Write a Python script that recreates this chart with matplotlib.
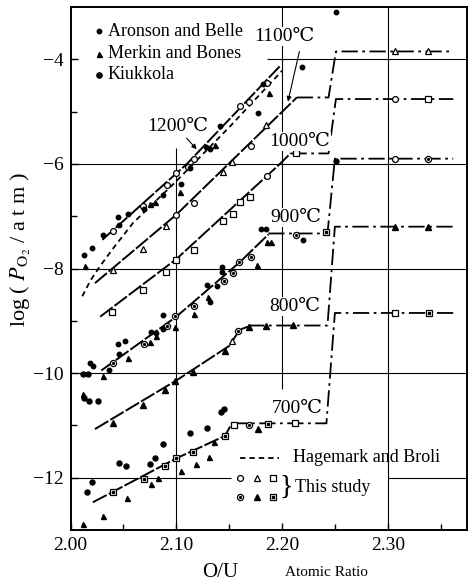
import matplotlib.pyplot as plt

plt.rcParams['font.family'] = ['Liberation Serif', 'DejaVu Serif']
plt.rcParams['mathtext.fontset'] = 'stix'

# ---- this study: fitted curves (rising branch) ----
c1200_x = [2.030, 2.110, 2.198]
c1200_y = [-7.45, -6.00, -4.13]
c1100_x = [2.023, 2.100, 2.214]
c1100_y = [-8.28, -6.97, -4.73]
c1000_x = [2.028, 2.100, 2.198, 2.208]
c1000_y = [-8.92, -7.82, -6.00, -5.80]
c900_x = [2.029, 2.100, 2.160, 2.187]
c900_y = [-9.95, -8.92, -7.88, -7.35]
c800_x = [2.023, 2.100, 2.150, 2.160, 2.168]
c800_y = [-11.07, -10.14, -9.48, -9.17, -9.11]
c700_x = [2.021, 2.100, 2.146, 2.152]
c700_y = [-12.47, -11.63, -11.20, -10.98]

# ---- plateau / step branches ----
s1100_x = [2.214, 2.244, 2.251, 2.362]
s1100_y = [-4.73, -4.73, -3.85, -3.85]
s1000_x = [2.208, 2.244, 2.251, 2.362]
s1000_y = [-5.80, -5.80, -4.76, -4.76]
s900_x = [2.187, 2.243, 2.250, 2.362]
s900_y = [-7.33, -7.33, -5.90, -5.90]
s800_x = [2.168, 2.243, 2.250, 2.362]
s800_y = [-9.09, -9.09, -7.20, -7.20]
s700_x = [2.152, 2.242, 2.250, 2.362]
s700_y = [-10.96, -10.96, -8.85, -8.85]

# Hagemark and Broli
hb_x = [2.011, 2.019, 2.028, 2.040, 2.059, 2.080, 2.100, 2.150, 2.200]
hb_y = [-8.53, -8.22, -7.95, -7.62, -7.13, -6.72, -6.33, -5.30, -4.22]

# ---- this study: measured points ----
open_circ_x = [2.040, 2.068, 2.091, 2.100, 2.111, 2.117, 2.160, 2.169, 2.186,
               2.100, 2.117, 2.171, 2.186, 2.307, 2.307]
open_circ_y = [-7.28, -6.80, -6.41, -6.18, -6.06, -5.90, -4.90, -4.82, -4.46,
               -6.97, -6.74, -5.65, -6.24, -4.76, -5.90]
open_tri_x = [2.040, 2.068, 2.090, 2.144, 2.153, 2.185, 2.307, 2.338, 2.153]
open_tri_y = [-8.02, -7.63, -7.19, -6.15, -5.96, -5.26, -3.85, -3.85, -9.38]
open_sq_x = [2.039, 2.068, 2.090, 2.100, 2.117, 2.144, 2.154, 2.160, 2.170,
             2.213, 2.338, 2.155, 2.212, 2.307]
open_sq_y = [-8.83, -8.42, -8.07, -7.84, -7.65, -7.10, -6.95, -6.72, -6.63,
             -5.80, -4.76, -11.00, -10.96, -8.85]
dot_circ_x = [2.040, 2.069, 2.091, 2.099, 2.117, 2.145, 2.154, 2.159, 2.171,
              2.213, 2.338, 2.158, 2.169]
dot_circ_y = [-9.81, -9.45, -9.10, -8.90, -8.72, -8.23, -8.09, -7.88, -7.78,
              -7.36, -5.90, -9.19, -11.00]
fill_tri_x = [2.040, 2.068, 2.089, 2.099, 2.116, 2.146, 2.169, 2.185, 2.210,
              2.307, 2.338, 2.177]
fill_tri_y = [-10.96, -10.61, -10.32, -10.16, -9.97, -9.57, -9.12, -9.10, -9.08,
              -7.20, -7.20, -11.07]
dot_sq_x = [2.040, 2.069, 2.089, 2.100, 2.116, 2.146, 2.187, 2.242, 2.339]
dot_sq_y = [-12.28, -12.03, -11.77, -11.63, -11.50, -11.20, -10.98, -7.30, -8.85]

# ---- literature data ----
aronson_x = [2.013, 2.020, 2.031, 2.046, 2.045, 2.054, 2.069, 2.087, 2.104,
             2.113, 2.128, 2.132, 2.141, 2.177, 2.182, 2.219, 2.251,
             2.018, 2.021, 2.036, 2.045, 2.051, 2.046, 2.076, 2.081, 2.087,
             2.087, 2.129, 2.132, 2.138, 2.143, 2.143, 2.180, 2.185, 2.220]
aronson_y = [-7.75, -7.60, -7.35, -7.17, -7.01, -6.95, -6.87, -6.59, -6.39,
             -6.07, -5.68, -5.71, -5.28, -5.03, -4.48, -4.14, -3.10,
             -9.80, -9.86, -9.94, -9.44, -9.38, -9.63, -9.22, -9.23, -8.89,
             -9.15, -8.32, -8.64, -8.34, -7.97, -8.06, -7.25, -7.25, -7.46]
merkin_x = [2.014, 2.075, 2.080, 2.103, 2.137, 2.188,
            2.031, 2.054, 2.075, 2.081, 2.099, 2.130, 2.117, 2.176, 2.186, 2.190,
            2.012, 2.012, 2.031, 2.053, 2.076, 2.083, 2.104, 2.119, 2.131, 2.136]
merkin_y = [-7.95, -6.76, -6.73, -6.53, -5.64, -4.65,
            -10.05, -9.71, -9.41, -9.29, -9.12, -8.55, -8.87, -7.93, -7.49, -7.49,
            -10.40, -12.89, -12.73, -12.38, -12.12, -12.01, -11.87, -11.74, -11.61, -11.31]
kiukkola_x = [2.012, 2.016, 2.013, 2.017, 2.026, 2.015, 2.020, 2.046, 2.052,
              2.075, 2.080, 2.087, 2.113, 2.129, 2.142, 2.145, 2.251]
kiukkola_y = [-10.02, -10.02, -10.47, -10.54, -10.54, -12.27, -12.09, -11.72, -11.78,
              -11.73, -11.63, -11.36, -11.15, -11.04, -10.75, -10.69, -5.95]

temps = ['1200℃', '1100℃', '1000℃', '900℃', '800℃', '700℃']
temp_x = [2.101, 2.202, 2.217, 2.213, 2.212, 2.214]
temp_y = [-5.28, -3.56, -5.57, -7.03, -8.73, -10.67]

fig = plt.figure(figsize=(4.71, 5.82), dpi=100)
ax = fig.add_axes([0.150, 0.0893, 0.8415, 0.8987])
ax.set_xlim(2.00, 2.375)
ax.set_ylim(-13, -3)

# grid pieces
gl = dict(color='black', lw=0.8, zorder=1)
ax.hlines(-4, 2.186, 2.375, **gl)
ax.hlines(-6, 2.00, 2.375, **gl)
ax.hlines(-8, 2.00, 2.375, **gl)
ax.hlines(-10, 2.00, 2.375, **gl)
ax.hlines(-12, 2.00, 2.152, **gl)
ax.hlines(-12, 2.300, 2.375, **gl)
ax.vlines(2.10, -13, -5.7, **gl)
ax.vlines(2.20, -10.3, -3, **gl)
ax.vlines(2.30, -13, -3, **gl)

rise = dict(color='black', lw=1.4, ls=(0, (8, 1.2)), zorder=3)
step = dict(color='black', lw=1.3, ls=(0, (9, 2.5, 1.5, 2.5)), zorder=3)
for cx, cy in [(c1200_x, c1200_y), (c1100_x, c1100_y), (c1000_x, c1000_y),
               (c900_x, c900_y), (c800_x, c800_y), (c700_x, c700_y)]:
    ax.plot(cx, cy, **rise)
for sx, sy in [(s1100_x, s1100_y), (s1000_x, s1000_y), (s900_x, s900_y),
               (s800_x, s800_y), (s700_x, s700_y)]:
    ax.plot(sx, sy, **step)
ax.plot(hb_x, hb_y, color='black', lw=1.3, ls=(0, (3, 2.2)), zorder=3)

mk = dict(ls='none', color='black', zorder=5)
ax.plot(open_circ_x, open_circ_y, 'o', ms=4.2, mfc='white', mew=0.9, **mk)
ax.plot(open_tri_x, open_tri_y, '^', ms=4.5, mfc='white', mew=0.9, **mk)
ax.plot(open_sq_x, open_sq_y, 's', ms=4.2, mfc='white', mew=0.9, **mk)
ax.plot(dot_circ_x, dot_circ_y, 'o', ms=4.4, mfc='white', mew=0.9, **mk)
ax.plot(dot_circ_x, dot_circ_y, 'o', ms=1.3, **mk)
ax.plot(fill_tri_x, fill_tri_y, '^', ms=5, **mk)
ax.plot(dot_sq_x, dot_sq_y, 's', ms=4.4, mfc='white', mew=0.9, **mk)
ax.plot(dot_sq_x, dot_sq_y, 's', ms=1.8, **mk)

ax.plot(aronson_x, aronson_y, 'o', ms=3.2, **mk)
ax.plot(merkin_x, merkin_y, '^', ms=3.6, **mk)
ax.plot(kiukkola_x, kiukkola_y, 'o', ms=3.6, **mk)

for t, x, y in zip(temps, temp_x, temp_y):
    ax.text(x, y, t, fontsize=14, ha='center', va='center', zorder=6,
            bbox=dict(fc='white', ec='none', pad=0.5))

arr = dict(arrowstyle='-|>', color='black', lw=0.8, mutation_scale=7)
ax.annotate('', xy=(2.121, -5.76), xytext=(2.108, -5.47), arrowprops=arr)
ax.annotate('', xy=(2.205, -4.86), xytext=(2.217, -3.80), arrowprops=arr)

# upper-left key
key_y = [-3.46, -3.89, -4.30]
ax.plot(2.027, key_y[0], 'o', ms=3.2, **mk)
ax.plot(2.027, key_y[1], '^', ms=3.6, **mk)
ax.plot(2.027, key_y[2], 'o', ms=3.8, **mk)
for y, s in zip(key_y, ['Aronson and Belle', 'Merkin and Bones', 'Kiukkola']):
    ax.text(2.035, y, s, fontsize=13, va='center', ha='left')

# lower-right key
ax.plot([2.160, 2.197], [-11.62, -11.62], color='black', lw=1.3, ls=(0, (3, 2.2)))
ax.text(2.210, -11.62, 'Hagemark and Broli', fontsize=13, va='center')
ax.plot([2.160], [-12.01], 'o', ms=4.2, mfc='white', mew=0.9, **mk)
ax.plot([2.176], [-12.01], '^', ms=4.5, mfc='white', mew=0.9, **mk)
ax.plot([2.191], [-12.01], 's', ms=4.2, mfc='white', mew=0.9, **mk)
ax.plot([2.160], [-12.37], 'o', ms=4.4, mfc='white', mew=0.9, **mk)
ax.plot([2.160], [-12.37], 'o', ms=1.3, **mk)
ax.plot([2.176], [-12.37], '^', ms=5, **mk)
ax.plot([2.191], [-12.37], 's', ms=4.4, mfc='white', mew=0.9, **mk)
ax.plot([2.191], [-12.37], 's', ms=1.8, **mk)
ax.text(2.198, -12.19, '}', fontsize=20, va='center', ha='left')
ax.text(2.212, -12.19, 'This study', fontsize=13, va='center', ha='left')

ax.set_xticks([2.00, 2.10, 2.20, 2.30])
ax.set_xticklabels(['2.00', '2.10', '2.20', '2.30'])
ax.set_xticks([2.05, 2.15, 2.25, 2.35], minor=True)
ax.set_yticks([-4, -6, -8, -10, -12])
ax.set_yticks([-5, -7, -9, -11], minor=True)
ax.tick_params(which='both', direction='in', top=False, right=False,
               labelsize=14, width=1)
ax.tick_params(which='major', length=5, pad=5)
ax.tick_params(which='minor', length=4)
for sp in ax.spines.values():
    sp.set_linewidth(1.4)

fig.text(0.045, 0.572, r'log ( $P_{\mathrm{O_2}}$ / a t m )', rotation=90,
         fontsize=16, ha='center', va='center')
fig.text(0.467, 0.016, 'O/U', fontsize=15, ha='center', va='center')
fig.text(0.694, 0.017, 'Atomic Ratio', fontsize=11, ha='center', va='center')

fig.savefig('out.png', dpi=100)
